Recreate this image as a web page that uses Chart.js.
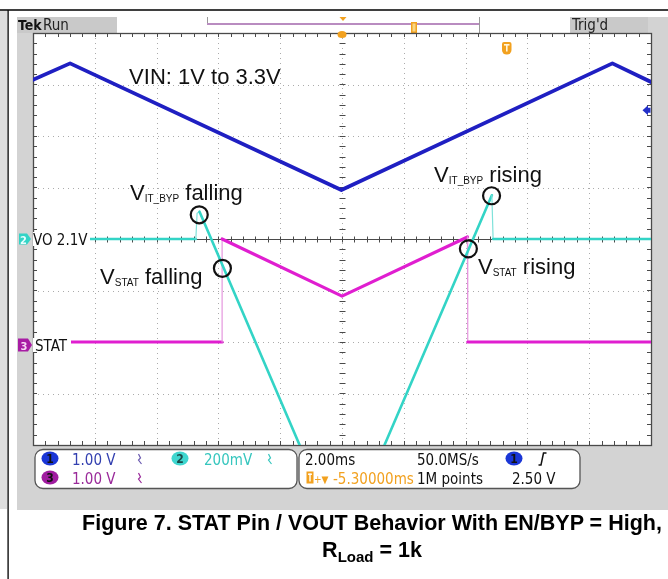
<!DOCTYPE html>
<html>
<head>
<meta charset="utf-8">
<title>Figure 7. STAT Pin / VOUT Behavior</title>
<script src="https://cdn.jsdelivr.net/npm/chart.js@4.4.1/dist/chart.umd.min.js"></script>
<style>
  html, body { margin: 0; padding: 0; background: #fff; }
  #wrap { position: relative; width: 668px; height: 579px; overflow: hidden; }
  #scope { position: absolute; left: 0; top: 0; width: 668px; height: 579px; }
  .caption {
    position: absolute; left: 76px; width: 592px; top: 510px;
    text-align: center; color: #000;
    font: bold 21.5px "Liberation Sans", Arial, sans-serif; line-height: 27px;
  }
  .caption sub { font-size: 15px; vertical-align: -5px; line-height: 0; }
</style>
</head>
<body>
<div id="wrap">
  <canvas id="scope" width="668" height="579"></canvas>
  <div class="caption">Figure 7. STAT Pin / VOUT Behavior With EN/BYP = High,<br>R<sub>Load</sub> = 1k</div>
</div>
<script>
/* ================= DATA (time in ms, 2 ms/div; level in divisions from centre) ================= */
const vinTime  = [0, 1.20, 9.98, 18.75, 20];
const vinDiv   = [3.09, 3.41, 0.95, 3.41, 3.05];

const voTime   = [0, 5.27, 5.31, 5.39, 10.00, 14.85, 14.89, 20];
const voDiv    = [0, 0, 0.50, 0.53, -5.92, 0.85, 0, 0];

const statTime = [0, 6.12, 6.12, 10.00, 14.06, 14.07, 20];
const statDiv  = [-2, -2, 0, -1.11, 0.04, -2, -2];

const xDivisions = [0, 2, 4, 6, 8, 10, 12, 14, 16, 18, 20];
const yDivisions = [-4, -3, -2, -1, 0, 1, 2, 3, 4];

const channelTags = ["VO 2.1V", "STAT"];
const scaleRow1 = ["1.00 V", "200mV", "2.00ms", "50.0MS/s"];
const scaleRow2 = ["1.00 V", "-5.30000ms", "1M points", "2.50 V"];

/* annotation anchors, in data units */
const notes = [
    { main: "VIN: 1V to 3.3V", sub: "", tail: "", x: 3.11, y: 3.01 },
    { main: "V", sub: "IT_BYP", tail: " falling", x: 3.14, y: 0.757 },
    { main: "V", sub: "STAT", tail: " falling", x: 2.17, y: -0.874 },
    { main: "V", sub: "IT_BYP", tail: " rising", x: 12.98, y: 1.107 },
    { main: "V", sub: "STAT", tail: " rising", x: 14.40, y: -0.68 }
];
const rings = [[5.38, 0.47], [6.13, -0.57], [14.84, 0.84], [14.09, -0.19]];

/* ================= STYLE ================= */
const BLUE = "#1f1fc2", CYAN = "#33d4c6", MAGENTA = "#e01ed0", ORANGE = "#f2a11f";
const COND = '"DejaVu Sans Condensed", "DejaVu Sans", sans-serif';
const ARIAL = '"Liberation Sans", Arial, sans-serif';

const pts = (t, v) => t.map((x, i) => ({ x: x, y: v[i] }));
const fast = c => Math.abs(c.p1.x - c.p0.x) < 2.5;

function text(c, s, x, y, font, color, align) {
    c.font = font;
    c.fillStyle = color;
    c.textAlign = align || "left";
    c.textBaseline = "alphabetic";
    c.fillText(s, x, y);
}

function badge(c, cx, cy, fill, label, ink) {
    c.beginPath();
    c.ellipse(cx, cy, 8.5, 7, 0, 0, Math.PI * 2);
    c.fillStyle = fill;
    c.fill();
    text(c, label, cx, cy + 4.5, "bold 12px " + COND, ink, "center");
}

function coupling(c, x, y, color) {
    c.strokeStyle = color;
    c.lineWidth = 1.2;
    c.beginPath();
    c.moveTo(x - 1.5, y - 5);
    c.lineTo(x + 0.5, y - 1);
    c.lineTo(x - 1.5, y + 1);
    c.lineTo(x + 1.5, y + 5);
    c.stroke();
}

/* ================= SCOPE SCREEN CHROME ================= */
const bezel = {
    id: "bezel",
    beforeDraw(chart) {
        const c = chart.ctx;
        c.save();
        c.fillStyle = "#fff";
        c.fillRect(0, 0, 668, 579);

        // page rules
        c.fillStyle = "#dedede";
        c.fillRect(0, 11, 7, 498);
        c.fillStyle = "#111";
        c.fillRect(0, 9.2, 668, 1.6);
        c.fillRect(7.4, 10, 1.4, 569);

        // bezel + status strip
        c.fillStyle = "#d3d3d3";
        c.fillRect(17, 17, 651, 493);
        c.fillStyle = "#fff";
        c.fillRect(117, 17, 453, 16);
        c.fillStyle = "#c9c9c9";
        c.fillRect(17, 17, 100, 16);
        c.fillRect(570, 17, 78, 16);

        text(c, "Tek", 18, 30, "bold 14px " + COND, "#111");
        text(c, "Run", 43, 30, "15px " + COND, "#222");
        text(c, "Trig'd", 572, 30, "15px " + COND, "#222");

        // record view bar
        c.strokeStyle = "#999";
        c.lineWidth = 1;
        c.beginPath();
        c.moveTo(207.5, 17); c.lineTo(207.5, 25);
        c.moveTo(479.5, 17); c.lineTo(479.5, 33);
        c.stroke();
        c.strokeStyle = "#b98cc0";
        c.lineWidth = 2;
        c.beginPath();
        c.moveTo(207, 24); c.lineTo(479, 24);
        c.stroke();
        c.fillStyle = ORANGE;
        c.fillRect(411, 22, 6, 11);
        c.fillStyle = "#f8d685";
        c.fillRect(412.5, 23.5, 3, 8);
        c.fillStyle = ORANGE;
        c.beginPath();
        c.moveTo(339.5, 17); c.lineTo(346.5, 17); c.lineTo(343, 21);
        c.fill();

        // readout boxes
        [[35, 449.5, 262, 39], [299, 449.5, 281, 39]].forEach(b => {
            c.beginPath();
            c.roundRect(b[0], b[1], b[2], b[3], 8);
            c.fillStyle = "#fff";
            c.fill();
            c.strokeStyle = "#555";
            c.lineWidth = 1.3;
            c.stroke();
        });

        const f = "15px " + COND;
        badge(c, 50, 458.5, "#1a36d6", "1", "#111");
        badge(c, 50, 477.5, "#a01ca0", "3", "#111");
        badge(c, 180, 458.5, "#3fd6cf", "2", "#1b4c4a");
        badge(c, 514, 458.5, "#1a36d6", "1", "#111");
        text(c, scaleRow1[0], 72, 465, f, "#3340b0");
        text(c, scaleRow2[0], 72, 484, f, "#9a2a9a");
        text(c, scaleRow1[1], 204, 465, f, "#36c6be");
        coupling(c, 140, 459, "#6a5ab0");
        coupling(c, 140, 478, "#9a2a9a");
        coupling(c, 270, 459, "#36c6be");
        text(c, scaleRow1[2], 305, 465, f, "#111");
        text(c, scaleRow1[3], 417, 465, f, "#111");
        c.strokeStyle = "#111";
        c.lineWidth = 1.5;
        c.beginPath();
        c.moveTo(538.5, 465); c.lineTo(541, 465); c.lineTo(543.5, 453); c.lineTo(546.5, 453);
        c.stroke();

        c.fillStyle = ORANGE;
        c.fillRect(306.5, 471.5, 7, 12);
        c.fillStyle = "#fff";
        c.fillRect(308, 473.5, 4, 1.4);
        c.fillRect(309.3, 473.5, 1.4, 8);
        text(c, "+\u25BC", 314, 483, "10px " + COND, ORANGE);
        text(c, scaleRow2[1], 333, 484, f, ORANGE);
        text(c, scaleRow2[2], 417, 484, f, "#111");
        text(c, scaleRow2[3], 512, 484, f, "#111");
        c.restore();
    },

    /* graticule under the traces */
    beforeDatasetsDraw(chart) {
        const c = chart.ctx;
        const { left, right, top, bottom } = chart.chartArea;
        const xs = chart.scales.x, ys = chart.scales.y;
        c.save();
        c.fillStyle = "#fff";
        c.fillRect(left, top, right - left, bottom - top);

        c.strokeStyle = "#ababab";
        c.lineWidth = 1;
        c.setLineDash([1, 4]);
        c.beginPath();
        xDivisions.slice(1, -1).forEach(v => {
            const px = Math.round(xs.getPixelForValue(v)) + 0.5;
            c.moveTo(px, top); c.lineTo(px, bottom);
        });
        yDivisions.slice(1, -1).forEach(v => {
            if (v === 0) return;
            const py = Math.round(ys.getPixelForValue(v)) + 0.5;
            c.moveTo(left, py); c.lineTo(right, py);
        });
        c.stroke();
        c.setLineDash([]);

        // centre horizontal line + minor ticks
        c.strokeStyle = "#4a4a4a";
        const cy = Math.round(ys.getPixelForValue(0)) + 0.5;
        const cx = Math.round(xs.getPixelForValue(10)) + 0.5;
        c.beginPath();
        c.moveTo(left, cy); c.lineTo(right, cy);
        for (let v = 0; v <= 20; v += 0.4) {
            const px = Math.round(xs.getPixelForValue(v)) + 0.5;
            c.moveTo(px, cy - 3); c.lineTo(px, cy + 3);
            c.moveTo(px, top); c.lineTo(px, top + 4);
            c.moveTo(px, bottom); c.lineTo(px, bottom - 4);
        }
        for (let v = -4; v <= 4; v += 0.2) {
            const py = Math.round(ys.getPixelForValue(v)) + 0.5;
            c.moveTo(cx - 3, py); c.lineTo(cx + 3, py);
            c.moveTo(left, py); c.lineTo(left + 4, py);
            c.moveTo(right, py); c.lineTo(right - 4, py);
        }
        c.stroke();

        c.lineWidth = 1.3;
        c.strokeRect(Math.round(left) + 0.5, Math.round(top) + 0.5, Math.round(right - left), Math.round(bottom - top));
        c.restore();
    },

    /* channel tags, markers and notes over the traces */
    afterDatasetsDraw(chart) {
        const c = chart.ctx;
        const xs = chart.scales.x, ys = chart.scales.y;
        const { right, top } = chart.chartArea;
        c.save();

        const y2 = ys.getPixelForValue(0);
        c.fillStyle = "#fff";
        c.fillRect(33, y2 - 7, 57, 14);
        c.fillStyle = CYAN;
        c.beginPath();
        c.moveTo(19, y2 - 5.5); c.lineTo(27, y2 - 5.5); c.lineTo(31, y2); c.lineTo(27, y2 + 5.5); c.lineTo(19, y2 + 5.5);
        c.closePath();
        c.fill();
        text(c, "2", 23.5, y2 + 4.5, "bold 11px " + COND, "#e9ffff", "center");
        text(c, channelTags[0], 33, y2 + 6, "15px " + COND, "#111");

        const y3 = ys.getPixelForValue(-2) + 3;
        c.fillStyle = "#fff";
        c.fillRect(33, y3 - 7, 38, 14);
        c.fillStyle = "#a81ca4";
        c.beginPath();
        c.moveTo(18, y3 - 6.5); c.lineTo(28, y3 - 6.5); c.lineTo(32, y3); c.lineTo(28, y3 + 6.5); c.lineTo(18, y3 + 6.5);
        c.closePath();
        c.fill();
        text(c, "3", 24, y3 + 4.5, "bold 11px " + COND, "#f6d8f4", "center");
        text(c, channelTags[1], 35, y3 + 6, "15px " + COND, "#111");

        // trigger position, trigger level and T cursor
        const tx = xs.getPixelForValue(10);
        c.fillStyle = ORANGE;
        c.beginPath();
        c.ellipse(tx, top + 1.5, 4.5, 3.5, 0, 0, Math.PI * 2);
        c.fill();
        c.beginPath();
        c.roundRect(502, 42, 9.5, 12.5, [2, 2, 4.5, 4.5]);
        c.fill();
        c.fillStyle = "#fff6dc";
        c.fillRect(504, 44, 5.5, 1.6);
        c.fillRect(506, 44, 1.6, 7.5);

        const ty = ys.getPixelForValue(2.5);
        c.fillStyle = "#2330c8";
        c.beginPath();
        c.moveTo(right - 8.5, ty); c.lineTo(right - 3, ty - 5); c.lineTo(right - 3, ty + 5);
        c.closePath();
        c.fill();
        c.fillRect(right - 3.5, ty - 2.5, 3, 5);

        // annotations
        notes.forEach(n => {
            const px = xs.getPixelForValue(n.x), py = ys.getPixelForValue(n.y);
            const big = "22px " + ARIAL, small = "10px " + ARIAL;
            text(c, n.main, px, py, big, "#111");
            c.font = big;
            let w = c.measureText(n.main).width;
            if (n.sub) {
                text(c, n.sub, px + w, py + 2, small, "#111");
                c.font = small;
                w += c.measureText(n.sub).width;
                text(c, n.tail, px + w, py, big, "#111");
            }
        });
        c.strokeStyle = "#111";
        c.lineWidth = 2.2;
        rings.forEach(r => {
            c.beginPath();
            c.arc(xs.getPixelForValue(r[0]), ys.getPixelForValue(r[1]), 8.5, 0, Math.PI * 2);
            c.stroke();
        });
        c.restore();
    }
};

/* ================= CHART ================= */
new Chart(document.getElementById("scope"), {
    type: "line",
    data: {
        datasets: [
            {
                label: "VIN", data: pts(vinTime, vinDiv), order: 0,
                borderColor: BLUE, borderWidth: 3.8
            },
            {
                label: "VO", data: pts(voTime, voDiv), order: 1,
                borderColor: CYAN, borderWidth: 2.6,
                segment: {
                    borderWidth: c => fast(c) ? 1.2 : 2.6,
                    borderColor: c => fast(c) ? "#7fe2da" : CYAN
                }
            },
            {
                label: "STAT", data: pts(statTime, statDiv), order: 2,
                borderColor: MAGENTA, borderWidth: 3.2,
                segment: {
                    borderWidth: c => fast(c) ? 1.2 : 3.2,
                    borderColor: c => fast(c) ? "#e596de" : MAGENTA
                }
            }
        ]
    },
    options: {
        responsive: false,
        devicePixelRatio: 1,
        animation: false,
        events: [],
        layout: { padding: { left: 33, top: 33, right: 17, bottom: 134 } },
        elements: {
            point: { radius: 0 },
            line: { tension: 0, borderJoinStyle: "round", borderCapStyle: "round" }
        },
        datasets: { line: { clip: 0 } },
        scales: {
            x: { type: "linear", min: 0, max: 20, display: false },
            y: { type: "linear", min: -4, max: 4, display: false }
        },
        plugins: {
            legend: { display: false },
            tooltip: { enabled: false }
        }
    },
    plugins: [bezel]
});
</script>
</body>
</html>
